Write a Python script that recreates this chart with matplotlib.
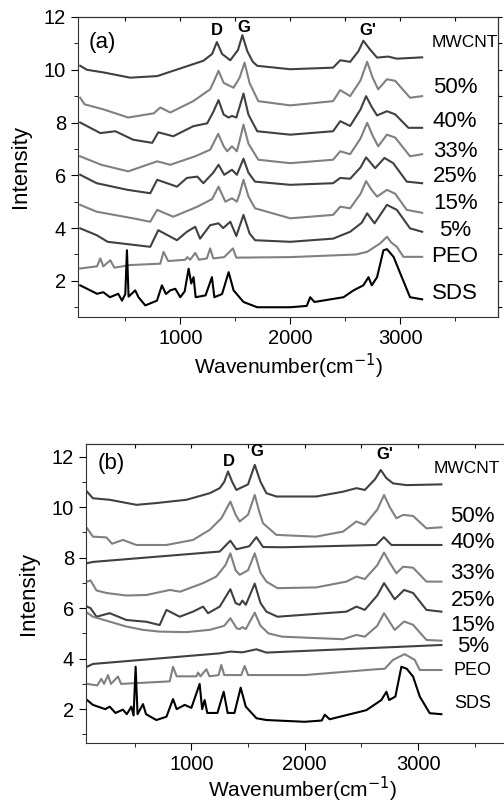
import matplotlib
matplotlib.use("Agg")
import matplotlib.pyplot as plt
from matplotlib.ticker import MultipleLocator

plt.rcParams['font.family'] = ['Liberation Sans', 'DejaVu Sans']

# ---- panel (a): (wavenumber, intensity) points ----
a_mwcnt = [(90,10.15),(150,10.0),(300,9.9),(545,9.7),(790,9.76),(1000,10.05),(1210,10.34),(1290,10.6),(1333,11.05),(1380,10.6),(1455,10.36),(1525,10.75),(1565,11.31),(1610,10.7),(1660,10.3),(1700,10.15),(2000,10.02),(2390,10.08),(2455,10.36),(2545,10.3),(2620,10.7),(2665,11.1),(2720,10.8),(2790,10.46),(2890,10.5),(2970,10.42),(3200,10.47)]
a_50 = [(90,8.94),(130,8.69),(300,8.5),(527,8.19),(760,8.35),(818,8.57),(909,8.38),(1118,8.81),(1272,9.26),(1310,9.6),(1348,9.96),(1395,9.5),(1485,9.32),(1540,9.7),(1585,10.27),(1630,9.5),(1710,8.81),(2000,8.65),(2390,8.81),(2455,9.23),(2545,9.0),(2640,9.6),(2700,10.3),(2750,9.7),(2800,9.26),(2880,9.64),(2955,9.58),(3090,8.94),(3200,9.0)]
a_40 = [(90,8.0),(273,7.6),(410,7.67),(570,7.35),(745,7.23),(800,7.63),(936,7.48),(1118,7.86),(1245,7.97),(1300,8.4),(1348,8.85),(1395,8.3),(1440,8.19),(1470,8.25),(1510,8.19),(1540,8.6),(1575,9.1),(1620,8.3),(1700,7.67),(2000,7.54),(2390,7.67),(2455,8.05),(2545,7.87),(2640,8.5),(2690,9.0),(2740,8.6),(2790,8.27),(2880,8.43),(2955,8.31),(3075,7.8),(3200,7.8)]
a_33 = [(90,6.72),(280,6.4),(527,6.15),(790,6.53),(909,6.4),(1136,6.72),(1272,6.97),(1345,7.57),(1395,7.1),(1427,6.91),(1470,7.1),(1515,6.91),(1545,7.4),(1575,7.92),(1620,7.2),(1710,6.59),(2000,6.46),(2390,6.59),(2455,6.91),(2545,6.8),(2640,7.4),(2700,7.99),(2750,7.5),(2800,7.1),(2880,7.54),(2955,7.43),(3090,6.72),(3200,6.8)]
a_25 = [(90,6.02),(240,5.7),(520,5.45),(727,5.32),(790,5.83),(970,5.57),(1060,5.9),(1155,5.95),(1210,5.7),(1300,6.1),(1348,6.4),(1400,6.02),(1470,6.21),(1515,6.02),(1575,6.63),(1620,6.1),(1680,5.76),(2000,5.64),(2390,5.7),(2455,5.9),(2545,5.87),(2640,6.3),(2690,6.68),(2773,6.27),(2857,6.66),(2937,6.46),(3060,5.76),(3200,5.7)]
a_15 = [(90,4.88),(240,4.62),(570,4.37),(727,4.24),(790,4.69),(936,4.43),(1155,4.81),(1290,5.1),(1348,5.57),(1410,5.0),(1470,5.13),(1515,5.0),(1540,5.3),(1575,5.83),(1620,5.2),(1680,4.75),(2000,4.37),(2390,4.5),(2455,4.81),(2545,4.75),(2640,5.3),(2690,5.78),(2740,5.45),(2790,5.19),(2880,5.45),(2955,5.3),(3060,4.69),(3200,4.58)]
a_5 = [(90,3.99),(240,3.73),(340,3.48),(727,3.29),(800,3.92),(970,3.54),(1060,3.86),(1136,4.05),(1180,3.6),(1272,4.11),(1348,4.18),(1390,4.0),(1455,4.24),(1510,3.7),(1575,4.5),(1630,3.8),(1680,3.54),(2000,3.48),(2390,3.6),(2545,3.86),(2650,4.2),(2700,4.56),(2767,4.18),(2880,4.88),(2970,4.69),(3090,3.99),(3200,3.86)]
a_peo = [(90,2.47),(243,2.55),(273,2.85),(300,2.55),(364,2.78),(400,2.5),(545,2.6),(818,2.65),(848,3.1),(890,2.75),(1045,2.8),(1064,2.9),(1090,2.8),(1136,3.06),(1170,2.8),(1242,2.85),(1272,3.23),(1300,2.85),(1400,2.9),(1479,3.23),(1510,2.88),(2000,2.9),(2600,3.0),(2700,3.1),(2818,3.42),(2880,3.67),(2920,3.45),(2970,3.29),(3030,2.91),(3200,2.91)]
a_sds = [(90,1.83),(200,1.6),(243,1.51),(300,1.57),(360,1.38),(436,1.51),(470,1.25),(500,1.5),(515,3.16),(530,1.4),(590,1.64),(620,1.38),(682,1.07),(788,1.25),(833,1.83),(870,1.5),(909,1.64),(955,1.7),(1000,1.38),(1040,1.6),(1076,2.46),(1100,1.9),(1121,2.14),(1140,1.38),(1230,1.45),(1288,2.14),(1310,1.38),(1380,1.5),(1440,2.33),(1485,1.64),(1575,1.2),(1700,1.0),(2000,1.0),(2150,1.05),(2182,1.38),(2220,1.2),(2485,1.38),(2576,1.64),(2665,1.83),(2712,2.14),(2742,1.83),(2790,2.14),(2848,3.16),(2880,3.2),(2940,2.91),(3015,2.14),(3090,1.38),(3200,1.3)]

# ---- panel (b) ----
b_mwcnt = [(80,10.61),(131,10.35),(279,10.29),(515,10.09),(691,10.16),(956,10.29),(1162,10.55),(1250,10.75),(1290,11.0),(1323,11.41),(1360,11.0),(1397,10.68),(1500,10.9),(1559,11.67),(1610,11.0),(1662,10.55),(1750,10.42),(2103,10.42),(2338,10.61),(2456,10.75),(2530,10.68),(2620,11.1),(2671,11.47),(2720,11.15),(2779,10.94),(2897,10.87),(3206,10.9)]
b_50 = [(80,9.16),(131,8.83),(250,8.8),(300,8.55),(396,8.7),(515,8.5),(780,8.5),(1014,8.7),(1162,9.1),(1265,9.56),(1344,10.22),(1390,9.7),(1426,9.43),(1500,9.7),(1559,10.48),(1600,9.8),(1632,9.36),(1750,8.9),(2100,8.83),(2338,9.03),(2456,9.43),(2530,9.3),(2640,9.9),(2700,10.48),(2750,10.0),(2809,9.56),(2868,9.69),(2956,9.65),(3074,9.16),(3206,9.2)]
b_40 = [(80,7.78),(131,7.83),(1250,8.24),(1344,8.67),(1397,8.33),(1510,8.45),(1574,8.81),(1632,8.42),(1809,8.41),(2630,8.5),(2698,8.81),(2765,8.5),(3206,8.5)]
b_33 = [(80,7.05),(110,7.1),(163,6.7),(250,6.6),(425,6.5),(603,6.52),(810,6.72),(900,6.65),(1103,6.99),(1220,7.25),(1300,7.7),(1344,8.17),(1390,7.5),(1426,7.32),(1460,7.4),(1500,7.5),(1559,8.17),(1610,7.4),(1662,7.05),(1760,6.79),(2100,6.82),(2368,7.05),(2456,7.25),(2530,7.15),(2640,7.7),(2700,8.2),(2750,7.8),(2809,7.38),(2868,7.64),(2956,7.6),(3074,7.05),(3206,7.05)]
b_25 = [(80,6.06),(110,6.0),(163,5.66),(279,5.8),(427,5.53),(603,5.46),(720,5.33),(780,5.93),(897,5.66),(1014,5.86),(1103,6.06),(1147,5.8),(1250,6.06),(1344,6.75),(1390,6.2),(1426,6.13),(1450,6.3),(1480,6.13),(1559,6.97),(1610,6.2),(1662,5.86),(1760,5.66),(2368,5.86),(2456,6.06),(2530,5.93),(2640,6.5),(2700,6.99),(2794,6.35),(2877,6.72),(2956,6.6),(3074,5.93),(3206,5.86)]
b_15 = [(80,5.82),(131,5.66),(427,5.27),(573,5.14),(720,5.07),(956,5.05),(1162,5.14),(1290,5.3),(1344,5.6),(1400,5.2),(1426,5.17),(1450,5.25),(1480,5.17),(1559,5.82),(1610,5.3),(1680,5.0),(1800,4.87),(2338,4.77),(2456,4.94),(2530,4.87),(2640,5.3),(2700,5.8),(2794,5.14),(2877,5.47),(2956,5.34),(3074,4.74),(3206,4.71)]
b_5 = [(80,3.68),(131,3.79),(1250,4.21),(1344,4.28),(1450,4.25),(1574,4.37),(1662,4.24),(3206,4.54)]
b_peo = [(80,3.0),(170,2.94),(205,3.2),(230,3.0),(264,3.35),(290,3.0),(352,3.29),(380,3.0),(809,3.1),(838,3.68),(870,3.3),(1044,3.3),(1059,3.45),(1080,3.3),(1132,3.58),(1160,3.3),(1240,3.35),(1264,3.75),(1290,3.35),(1440,3.35),(1470,3.71),(1500,3.35),(2000,3.35),(2632,3.58),(2706,3.6),(2779,3.95),(2882,4.18),(2971,3.95),(3015,3.55),(3206,3.55)]
b_sds = [(80,2.36),(131,2.17),(240,2.0),(279,2.1),(330,1.85),(396,1.98),(430,1.8),(470,2.1),(490,1.75),(508,3.68),(525,1.8),(573,2.2),(600,1.8),(691,1.57),(780,1.7),(838,2.4),(870,2.0),(941,2.17),(1000,2.05),(1073,3.0),(1095,2.0),(1117,2.36),(1140,1.85),(1230,1.85),(1285,2.69),(1320,1.85),(1380,1.85),(1435,2.85),(1480,2.1),(1574,1.64),(1662,1.57),(2000,1.5),(2150,1.55),(2177,1.78),(2220,1.6),(2544,1.96),(2676,2.36),(2721,2.69),(2745,2.36),(2800,2.5),(2853,3.68),(2900,3.6),(2956,3.29),(3015,2.5),(3103,1.84),(3206,1.8)]

names = ["MWCNT", "50%", "40%", "33%", "25%", "15%", "5%", "PEO", "SDS"]
a_label_y = [11.05, 9.33, 8.05, 6.91, 5.95, 4.94, 3.92, 2.91, 1.51]
b_label_y = [11.54, 9.62, 8.61, 7.38, 6.32, 5.33, 4.48, 3.52, 2.23]
peak_names = ["D", "G", "G'"]
peak_x = [1333, 1575, 2705]

dark, gray = "#404040", "#808080"
colors = [dark, gray, dark, gray, dark, gray, dark, gray, "black"]

fig = plt.figure(figsize=(5.04, 8.05), dpi=100)
ax1 = fig.add_axes([0.1548, 0.6062, 0.8333, 0.3727])
ax2 = fig.add_axes([0.1706, 0.0767, 0.859, 0.3718])


def draw(ax, traces, label_y, label_x, small, peak_y, tag, tag_y, xpad):
    for tr, c in zip(traces, colors):
        xs = [p[0] for p in tr]
        ys = [p[1] for p in tr]
        ax.plot(xs, ys, color=c, lw=1.5)
    for n, y in zip(names, label_y):
        if n == "MWCNT":
            fs = 12.5
        elif small and n in ("PEO", "SDS"):
            fs = 13
        else:
            fs = 16
        ax.text(label_x[0] if n == "MWCNT" else label_x[1], y, n,
                fontsize=fs, ha="center", va="center")
    for n, x, y in zip(peak_names, peak_x, peak_y):
        ax.text(x, y, n, fontsize=12, fontweight="bold", ha="center", va="center")
    ax.text(290, tag_y, tag, fontsize=16, ha="center", va="center")
    ax.set_xlim(70, 3890)
    ax.xaxis.set_major_locator(MultipleLocator(1000))
    ax.xaxis.set_minor_locator(MultipleLocator(500))
    ax.yaxis.set_major_locator(MultipleLocator(2))
    ax.yaxis.set_minor_locator(MultipleLocator(1))
    ax.set_xticks([1000, 2000, 3000])
    ax.tick_params(which="both", direction="out", labelsize=14.5)
    ax.tick_params(which="major", length=5)
    ax.tick_params(which="minor", length=3)
    top = ax.secondary_xaxis("top")
    top.set_xticks([500, 1000, 1500, 2000, 2500, 3000, 3500])
    top.tick_params(direction="in", length=3, labeltop=False)
    right = ax.secondary_yaxis("right")
    right.set_yticks(range(1, 13))
    right.tick_params(direction="out", length=3, labelright=False)
    ax.set_ylabel("Intensity", fontsize=16, labelpad=9)
    ax.set_xlabel("Wavenumber(cm$^{-1}$)", fontsize=15, labelpad=xpad)
    for s in ax.spines.values():
        s.set_color("#333333")


draw(ax1, [a_mwcnt, a_50, a_40, a_33, a_25, a_15, a_5, a_peo, a_sds],
     a_label_y, (3590, 3500), False, [11.48, 11.6, 11.48], "(a)", 11.05, 3)
ax1.set_ylim(0.63, 12.0)

draw(ax2, [b_mwcnt, b_50, b_40, b_33, b_25, b_15, b_5, b_peo, b_sds],
     b_label_y, (3427, 3483), True, [11.8, 12.2, 12.07], "(b)", 11.74, 0.5)
ax2.set_ylim(0.65, 12.5)

fig.savefig("out.png", dpi=100)
